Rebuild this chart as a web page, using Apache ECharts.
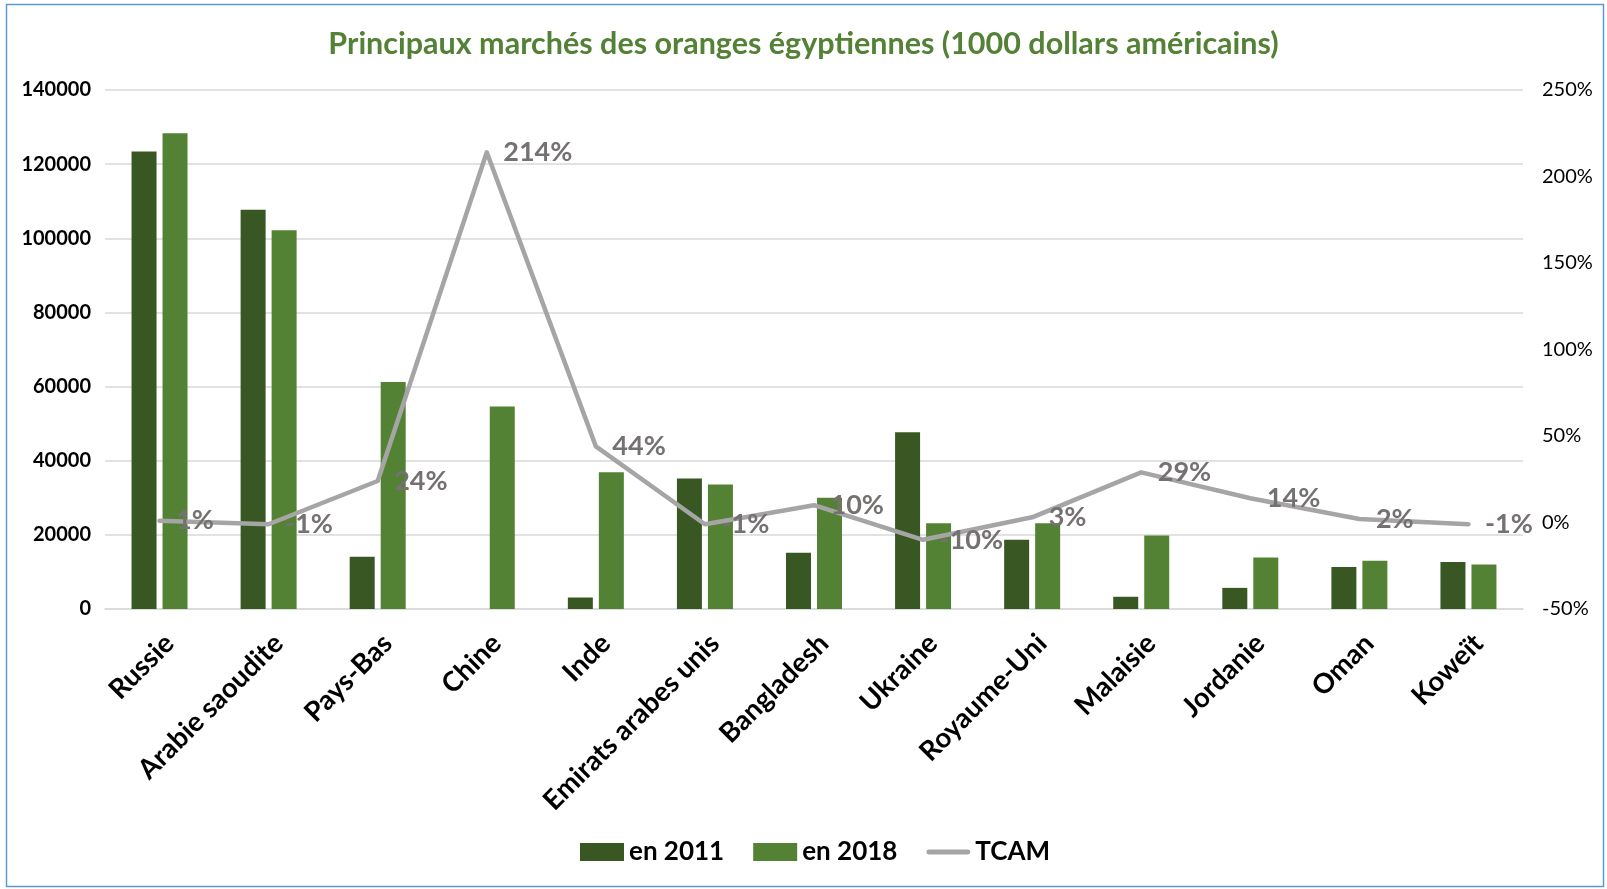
<!DOCTYPE html>
<html>
<head>
<meta charset="utf-8">
<script src="https://cdn.jsdelivr.net/npm/echarts@6/dist/echarts.min.js"></script>
<style>
  html, body { margin: 0; padding: 0; background: #fff; }
  #chart { width: 1607px; height: 889px; }
</style>
</head>
<body>
<div id="chart"></div>
<script>
// pays (ordre du graphique)
var countries = ['Russie', 'Arabie saoudite', 'Pays-Bas', 'Chine', 'Inde', 'Emirats arabes unis',
  'Bangladesh', 'Ukraine', 'Royaume-Uni', 'Malaisie', 'Jordanie', 'Oman', 'Koweït']
// valeurs en 1000 USD
var val2011 = [123400, 107700, 14100, 0, 3100, 35200, 15200, 47700, 18700, 3300, 5700, 11300, 12700]
var val2018 = [128300, 102200, 61200, 54600, 36900, 33600, 30000, 23100, 23100, 19800, 13900, 13000, 12000]
// TCAM en %
var tcam = [1, -1, 24, 214, 44, -1, 10, -10, 3, 29, 14, 2, -1]

var leftTicks = { min: 0, max: 140000, interval: 20000 }
var rightTicks = { min: -50, max: 250, interval: 50 }

var font = 'Lato, "Open Sans", sans-serif'
var chart = echarts.init(document.getElementById('chart'))

chart.setOption({
  backgroundColor: '#fff',
  textStyle: { fontFamily: font },
  title: {
    text: 'Principaux marchés des oranges égyptiennes (1000 dollars américains)',
    left: 'center',
    top: 24,
    textStyle: { color: '#538135', fontSize: 30.5, fontWeight: 'bold', fontFamily: font }
  },
  graphic: [{
    type: 'rect',
    shape: { x: 6.5, y: 4.5, width: 1597, height: 882 },
    style: { fill: 'none', stroke: '#5B9BD5', lineWidth: 1.5 },
    silent: true
  }],
  legend: {
    bottom: 19,
    left: 575,
    itemWidth: 44,
    itemHeight: 18,
    itemGap: 29,
    textStyle: { fontSize: 26, fontWeight: 'bold', color: '#000', fontFamily: font },
    data: [
      { name: 'en 2011', icon: 'rect' },
      { name: 'en 2018', icon: 'rect' },
      { name: 'TCAM', icon: 'path://M2,0 L42,0 A2.5,2.5 0 0 1 42,5 L2,5 A2.5,2.5 0 0 1 2,0 Z', itemStyle: { color: '#A5A5A5' } }
    ]
  },
  grid: { left: 105, right: 84, top: 90, bottom: 280, containLabel: false },
  xAxis: {
    type: 'category',
    data: countries,
    axisLine: { lineStyle: { color: '#D9D9D9', width: 1.5 } },
    axisTick: { show: false },
    axisLabel: {
      rotate: 45,
      interval: 0,
      margin: 20,
      verticalAlign: 'top',
      color: '#000',
      fontSize: 27.5,
      fontWeight: 'bold',
      fontFamily: font
    }
  },
  yAxis: [{
    type: 'value',
    min: leftTicks.min,
    max: leftTicks.max,
    interval: leftTicks.interval,
    axisLine: { show: false },
    axisTick: { show: false },
    splitLine: { lineStyle: { color: '#D9D9D9', width: 1.5 } },
    axisLabel: {
      margin: 14, color: '#000', fontSize: 20, fontWeight: 'bold', fontFamily: font,
      formatter: function (v) { return String(v) }
    }
  }, {
    type: 'value',
    min: rightTicks.min,
    max: rightTicks.max,
    interval: rightTicks.interval,
    axisLine: { show: false },
    axisTick: { show: false },
    splitLine: { show: false },
    axisLabel: {
      margin: 19, color: '#000', fontSize: 20, fontFamily: font,
      formatter: function (v) { return v + '%' }
    }
  }],
  series: [{
    name: 'en 2011',
    type: 'bar',
    data: val2011,
    barWidth: 25,
    barGap: '24%',
    itemStyle: { color: '#385723' }
  }, {
    name: 'en 2018',
    type: 'bar',
    data: val2018,
    barWidth: 25,
    itemStyle: { color: '#548235' }
  }, {
    name: 'TCAM',
    type: 'line',
    yAxisIndex: 1,
    data: tcam,
    symbol: 'circle',
    symbolSize: 1,
    showSymbol: true,
    z: 5,
    lineStyle: { color: '#A5A5A5', width: 4.5, cap: 'round', join: 'round' },
    itemStyle: { color: '#A5A5A5' },
    label: {
      show: true,
      position: 'right',
      distance: 16,
      formatter: '{c}%',
      color: '#767171',
      fontSize: 27,
      fontWeight: 'bold',
      fontFamily: font
    }
  }]
})
</script>
</body>
</html>
